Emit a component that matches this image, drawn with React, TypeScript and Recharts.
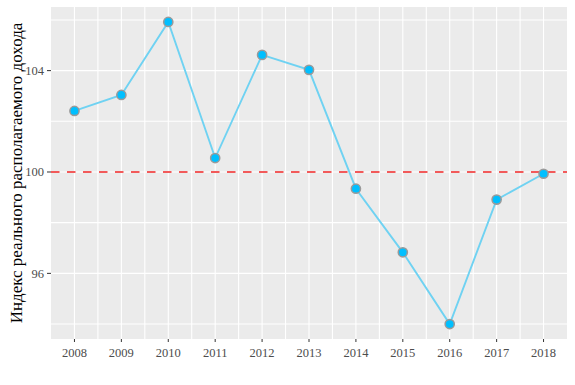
import React from 'react';
import { LineChart, Line, XAxis, YAxis, CartesianGrid, ReferenceLine } from 'recharts';

const years = [2008, 2009, 2010, 2011, 2012, 2013, 2014, 2015, 2016, 2017, 2018];
const incomeIndex = [102.41, 103.04, 105.92, 100.55, 104.62, 104.03, 99.34, 96.83, 94.0, 98.91, 99.93];
const yTicks = [96, 100, 104];
const yGrid = [94, 96, 98, 100, 102, 104, 106];
const xGrid = [2008, 2008.5, 2009, 2009.5, 2010, 2010.5, 2011, 2011.5, 2012, 2012.5, 2013, 2013.5, 2014, 2014.5, 2015, 2015.5, 2016, 2016.5, 2017, 2017.5, 2018];
const baseline = 100;
const yTitle = 'Индекс реального располагаемого дохода';

const data = years.map((y, i) => ({ year: y, value: incomeIndex[i] }));

const FONT = '"Liberation Serif", "Times New Roman", serif';

export default function App() {
  return (
    <div style={{ position: 'absolute', left: 0, top: 0 }}>
      <LineChart width={575} height={385} data={data} margin={{ top: 7, right: 8, bottom: 0, left: 0 }}>
        <CartesianGrid fill="#EBEBEB" horizontal={false} vertical={false} />
        {xGrid.map((g) => (
          <ReferenceLine key={'x' + g} x={g} stroke="#FFFFFF" strokeWidth={1.1} ifOverflow="hidden" />
        ))}
        {yGrid.map((g) => (
          <ReferenceLine key={'y' + g} y={g} stroke="#FFFFFF" strokeWidth={1.1} ifOverflow="hidden" />
        ))}
        <XAxis
          dataKey="year"
          type="number"
          domain={[2007.5, 2018.5]}
          ticks={years}
          height={46}
          axisLine={false}
          tickLine={{ stroke: '#333333', strokeWidth: 1 }}
          tickSize={3}
          tickMargin={6}
          tick={{ fill: '#4D4D4D', fontSize: 12.5, fontFamily: FONT }}
          interval={0}
        />
        <YAxis
          type="number"
          domain={[93.41, 106.51]}
          ticks={yTicks}
          width={51}
          axisLine={false}
          tickLine={{ stroke: '#333333', strokeWidth: 1 }}
          tickSize={4}
          tickMargin={3}
          tick={{ fill: '#4D4D4D', fontSize: 12.5, fontFamily: FONT }}
          allowDataOverflow
          label={{
            content: () => (
              <text
                x={16}
                y={173}
                transform="rotate(-90 16 173)"
                textAnchor="middle"
                dominantBaseline="central"
                fontFamily={FONT}
                fontSize={17}
                fill="#000000"
              >
                {yTitle}
              </text>
            ),
          }}
        />
        <ReferenceLine y={baseline} stroke="#F25A5A" strokeWidth={2} strokeDasharray="8.5 7.5" />
        <Line
          type="linear"
          dataKey="value"
          stroke="#6FD2F2"
          strokeWidth={1.9}
          isAnimationActive={false}
          dot={{ r: 4.6, fill: '#00BFFF', stroke: '#9A9A9A', strokeWidth: 1.5, fillOpacity: 1 }}
          activeDot={false}
        />
      </LineChart>
    </div>
  );
}
